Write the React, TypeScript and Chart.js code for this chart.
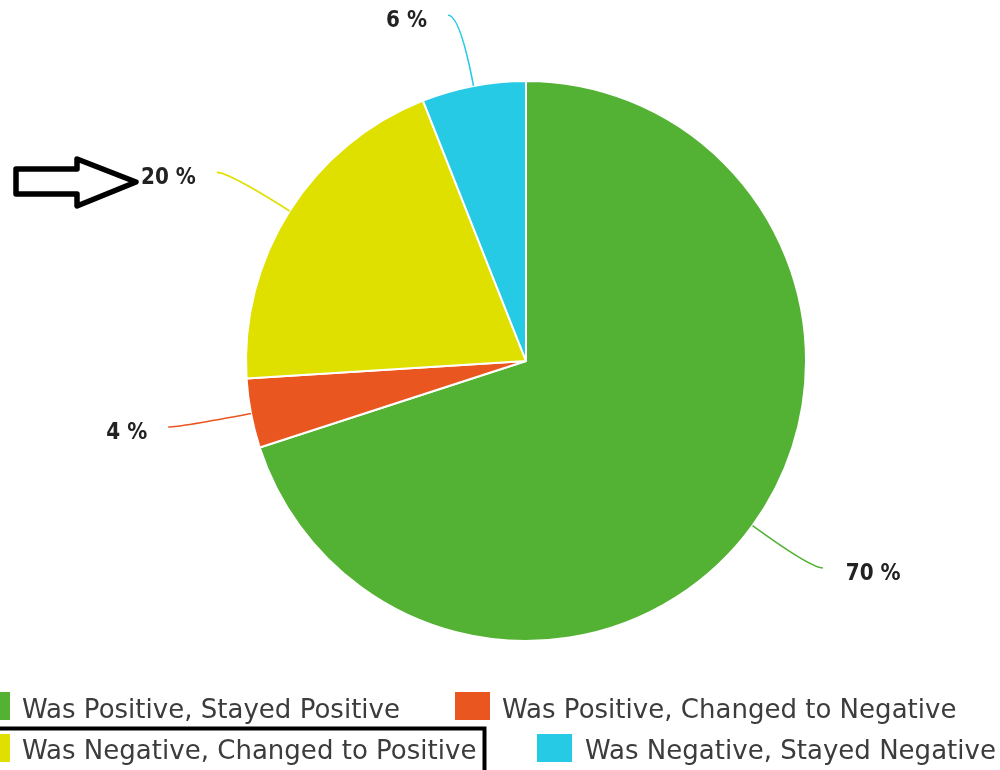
import React, { useEffect, useRef } from "react";
import { Chart, registerables } from "chart.js";

Chart.register(...registerables);

const categories = [
  "Was Positive, Stayed Positive",
  "Was Positive, Changed to Negative",
  "Was Negative, Changed to Positive",
  "Was Negative, Stayed Negative",
];
const values = [70, 4, 20, 6];
const colors = ["#53B234", "#EA561F", "#DFE000", "#27CAE4"];

const W = 1000;
const H = 770;

const outLabels = {
  id: "outLabels",
  afterDatasetsDraw(chart: any) {
    const ctx = chart.ctx;
    const meta = chart.getDatasetMeta(0);
    meta.data.forEach((arc: any, i: number) => {
      const { x, y, startAngle, endAngle, outerRadius } = arc.getProps(
        ["x", "y", "startAngle", "endAngle", "outerRadius"],
        true
      );
      const mid = (startAngle + endAngle) / 2;
      const dx = Math.cos(mid);
      const dy = Math.sin(mid);
      const p0x = x + outerRadius * dx;
      const p0y = y + outerRadius * dy;
      const cx = x + (outerRadius + 72) * dx;
      const cy = y + (outerRadius + 72) * dy;
      const right = dx >= 0;
      const ex = cx + (right ? 12 : -12);
      const ey = cy;
      ctx.save();
      ctx.strokeStyle = colors[i];
      ctx.lineWidth = 1.6;
      ctx.beginPath();
      ctx.moveTo(p0x, p0y);
      ctx.quadraticCurveTo(cx, cy, ex, ey);
      ctx.stroke();
      ctx.font = "bold 20px 'DejaVu Sans'";
      ctx.fillStyle = "#222222";
      ctx.textBaseline = "middle";
      ctx.textAlign = right ? "left" : "right";
      ctx.translate(right ? ex + 23 : ex - 21, ey + 6);
      ctx.scale(1, 1.16);
      ctx.fillText(`${values[i]} %`, 0, 0);
      ctx.restore();
    });
  },
};

const legendAndNotes = {
  id: "legendAndNotes",
  afterDraw(chart: any) {
    const ctx = chart.ctx;
    ctx.save();
    // legend
    ctx.font = "27px 'DejaVu Sans'";
    const s = 378 / ctx.measureText(categories[0]).width;
    const slots = [
      { bx: -25, by: 692, tx: 22, ty: 718 },
      { bx: 455, by: 692, tx: 502, ty: 718 },
      { bx: -25, by: 734, tx: 22, ty: 759 },
      { bx: 537, by: 734, tx: 585, ty: 759 },
    ];
    categories.forEach((c, i) => {
      const sl = slots[i];
      ctx.fillStyle = colors[i];
      ctx.fillRect(sl.bx, sl.by, 35, 28);
      ctx.save();
      ctx.translate(sl.tx, sl.ty);
      ctx.scale(s, 1);
      ctx.fillStyle = "#3c3c3c";
      ctx.textBaseline = "alphabetic";
      ctx.textAlign = "left";
      ctx.fillText(c, 0, 0);
      ctx.restore();
    });
    // highlight box
    ctx.strokeStyle = "#000";
    ctx.lineWidth = 4;
    ctx.strokeRect(-20, 728.5, 504.5, 100);
    // arrow
    ctx.lineWidth = 5.5;
    ctx.lineJoin = "round";
    ctx.beginPath();
    ctx.moveTo(16, 169);
    ctx.lineTo(77, 169);
    ctx.lineTo(77, 159);
    ctx.lineTo(136, 182);
    ctx.lineTo(77, 206);
    ctx.lineTo(77, 194);
    ctx.lineTo(16, 194);
    ctx.closePath();
    ctx.stroke();
    ctx.restore();
  },
};

export default function App() {
  const ref = useRef<HTMLCanvasElement | null>(null);
  useEffect(() => {
    if (!ref.current) return;
    const chart = new Chart(ref.current, {
      type: "pie",
      data: {
        labels: categories,
        datasets: [
          {
            data: values,
            backgroundColor: colors,
            borderColor: "#ffffff",
            borderWidth: 2,
          },
        ],
      },
      options: {
        responsive: false,
        animation: false,
        radius: 280,
        layout: { padding: { left: 52, right: 0, top: 0, bottom: 48 } },
        plugins: {
          legend: { display: false },
          tooltip: { enabled: false },
        },
      } as any,
      plugins: [outLabels, legendAndNotes],
    });
    return () => chart.destroy();
  }, []);
  return (
    <div style={{ position: "absolute", left: 0, top: 0, width: W, height: H, background: "#fff" }}>
      <canvas ref={ref} width={W} height={H} style={{ width: W, height: H, display: "block" }} />
    </div>
  );
}
